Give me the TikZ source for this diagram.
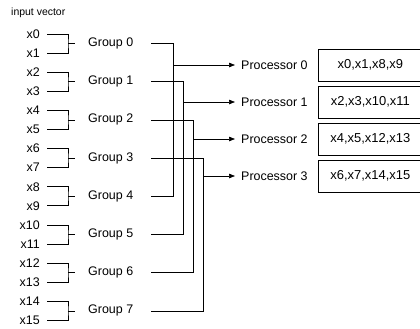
\documentclass[tikz,border=0pt]{standalone}
\usepackage{fontspec}
\setmainfont{Liberation Sans}
\usetikzlibrary{arrows.meta}
\begin{document}
\begin{tikzpicture}[x=1bp,y=-1bp,
  lbl/.style={font=\fontsize{12.5}{14}\selectfont, inner sep=0pt},
  wire/.style={line width=0.7bp},
  arr/.style={wire,-{Triangle[length=6bp,width=4.5bp]}},
  procbox/.style={draw, line width=0.7bp, minimum width=140bp, minimum height=32bp, inner sep=0pt, font=\fontsize{13}{15}\selectfont}]
\useasboundingbox (0,0) rectangle (420,329);
\node[anchor=west, inner sep=0pt, font=\fontsize{10.5}{12}\selectfont] (title) at (11,13) {input vector};
\foreach \k in {0,...,7}{
  \pgfmathsetmacro{\gy}{43.5+38.2*\k}
  \pgfmathtruncatemacro{\a}{2*\k}
  \pgfmathtruncatemacro{\b}{2*\k+1}
  \node[lbl, anchor=east] (x\a) at (40,\gy-9.5) {x\a};
  \node[lbl, anchor=east] (x\b) at (40,\gy+9.5) {x\b};
  \node[lbl, anchor=west] (g\k) at (88,\gy) {Group \k};
  \coordinate (t\k) at (68,\gy);
  \draw[wire] ([xshift=7bp]x\a.east) -| (t\k) |- ([xshift=7bp]x\b.east);
  \draw[wire] (t\k) -- ([xshift=-13bp]g\k.west);
}
\foreach \k/\txt in {0/{x0,x1,x8,x9},1/{x2,x3,x10,x11},2/{x4,x5,x12,x13},3/{x6,x7,x14,x15}}{
  \pgfmathtruncatemacro{\m}{\k+4}
  \pgfmathsetmacro{\py}{65+37*\k}
  \coordinate (v\k) at ({173+10*\k},0);
  \draw[wire] ([xshift=18bp]g\k.east) -| (g\m -| v\k) -- ([xshift=18bp]g\m.east);
  \node[lbl, anchor=west, inner xsep=6bp] (p\k) at (235,\py) {Processor \k};
  \draw[arr] (p\k -| v\k) -- (p\k.west);
  \node[procbox, anchor=west] (b\k) at (318,\py) {\hspace*{-36bp}\txt};
}
\end{tikzpicture}
\end{document}
